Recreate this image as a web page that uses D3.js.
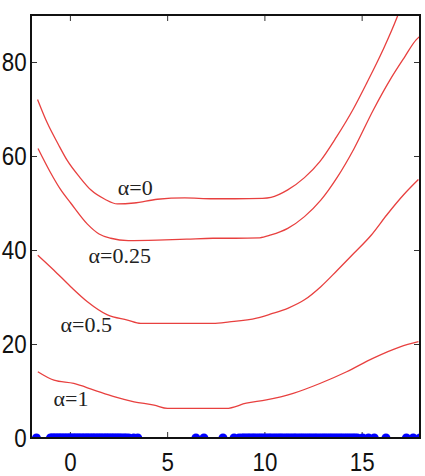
<!DOCTYPE html>
<html>
<head>
<meta charset="utf-8">
<script src="https://cdn.jsdelivr.net/npm/d3@7"></script>
<style>
  html, body { margin: 0; padding: 0; background: #fff; }
  .tick-label { font-family: "Liberation Sans", Arial, sans-serif; font-size: 26px; fill: #111; }
  .alpha-label { font-family: "Liberation Serif", "Times New Roman", serif; font-size: 22px; fill: #222; }
</style>
</head>
<body>
<div id="app"></div>
<script>
// curves, [x, y]
const alpha0 = [[-1.66,72],[-1.16,67],[-0.6,62.5],[-0.13,59],[0.5,55.5],[1.07,52.8],[1.8,50.8],[2.44,49.8],
  [3.3,50],[4.5,50.8],[5.9,51.1],[7.35,50.9],[8.5,50.9],[9.9,51],[10.34,51.2],[11.2,52.8],[12.06,55.4],
  [12.85,58.8],[13.7,64],[14.57,70],[15.26,75.5],[16.1,82.6],[16.8,89.3],[17.0,91.5]];
const alpha025 = [[-1.64,61.6],[-1.0,56.5],[-0.5,53],[0.04,50],[0.9,45.5],[1.5,43.4],[2.1,42.5],[3,42],[4.5,42.1],
  [6,42.3],[7.35,42.5],[8.5,42.5],[9.76,42.6],[10.34,43.2],[11.2,44.6],[12.06,47.1],[12.9,50.6],[13.75,55.5],
  [14.6,61.5],[15.6,69.8],[16.46,76.2],[17.2,81],[17.8,84.7],[18,85.5]];
const alpha05 = [[-1.65,38.9],[-0.82,35.7],[0.04,32.2],[0.9,29],[1.93,26.2],[2.96,25.1],[3.64,24.4],[5,24.4],
  [7.35,24.4],[8.2,24.7],[9.6,25.5],[10.34,26.4],[11.2,27.6],[12.06,29.4],[12.9,32.2],[13.75,35.7],[14.6,39.3],
  [15.5,43.2],[16.3,47.5],[17.17,51.8],[17.92,55]];
const alpha1 = [[-1.65,14.1],[-0.82,12.3],[0.2,11.6],[1.24,10.2],[2.27,8.8],[3.3,7.7],[4.33,7.0],[5.02,6.3],
  [7.35,6.3],[8.04,6.3],[9.07,7.4],[10.1,8.1],[11.48,9.5],[12.85,11.6],[14.23,14.1],[15.6,17],[16.98,19.4],[17.92,20.5]];

const curves = [alpha0, alpha025, alpha05, alpha1];
const labels = ["α=0", "α=0.25", "α=0.5", "α=1"];
const labelAt = [[2.46,51.7],[0.96,37.2],[-0.48,22.6],[-0.84,6.8]];

// sample points along the x axis (y = 0)
const samples = [-1.72,
  -1.0,-0.93,-0.85,-0.78,-0.7,-0.62,-0.55,-0.47,-0.4,-0.31,-0.24,-0.15,-0.08,0.0,0.07,0.16,0.24,0.31,0.4,
  0.47,0.55,0.64,0.71,0.8,0.88,0.95,1.04,1.12,1.2,1.27,1.36,1.44,1.52,1.6,1.68,1.77,1.85,1.93,2.01,2.1,
  2.18,2.26,2.35,2.43,2.52,2.6,2.7,2.81,2.9,3.03,3.28,3.49,
  6.48,6.89,7.87,8.44,8.7,
  8.85,8.95,9.06,9.17,9.26,9.38,9.47,9.58,9.7,9.8,9.91,10.02,10.13,10.24,10.33,10.45,10.56,10.67,10.78,
  10.87,10.98,11.1,11.2,11.31,11.42,11.53,11.62,11.74,11.85,11.95,12.06,12.17,12.28,12.38,12.49,12.6,
  12.7,12.82,12.93,13.04,13.14,13.25,13.36,13.46,13.57,13.68,13.79,13.9,14.0,14.12,14.23,14.34,14.45,
  14.56,14.66,14.78,
  15.05,15.35,15.65,16.25,17.3,17.65,18.0];

const xTicks = [0, 5, 10, 15];
const yTicks = [0, 20, 40, 60, 80];

const width = 425, height = 476;
const margin = {top: 15, right: 5, bottom: 38, left: 31};

const svg = d3.select("#app").append("svg")
    .attr("width", width)
    .attr("height", height)
    .style("display", "block");

svg.append("rect").attr("width", width).attr("height", height).attr("fill", "#fff");

const x = d3.scaleLinear().domain([-2, 18]).range([margin.left, width - margin.right]);
const y = d3.scaleLinear().domain([0, 90]).range([height - margin.bottom, margin.top]);

svg.append("defs").append("clipPath").attr("id", "plot")
  .append("rect")
    .attr("x", x(-2)).attr("y", y(90))
    .attr("width", x(18) - x(-2)).attr("height", y(0) - y(90));

// axes, ticks inward like matlab
const tick = 6;
const styleAxis = g => {
  g.select(".domain").remove();
  g.selectAll(".tick line").attr("stroke", "#333").attr("stroke-width", 1);
};
const styleLabels = g => g.selectAll("text")
    .attr("class", "tick-label")
    .attr("fill", null)
    .attr("transform", "scale(0.86,1)");

svg.append("g")
    .attr("transform", `translate(0,${y(0)})`)
    .call(d3.axisBottom(x).tickValues(xTicks).tickSizeInner(-tick).tickSizeOuter(0).tickPadding(15))
    .attr("font-size", null).attr("font-family", null)
    .call(styleAxis)
    .call(styleLabels);

svg.append("g")
    .attr("transform", `translate(0,${y(90)})`)
    .call(d3.axisTop(x).tickValues(xTicks).tickSizeInner(-tick).tickSizeOuter(0).tickFormat(""))
    .call(styleAxis);

svg.append("g")
    .attr("transform", `translate(${x(-2)},0)`)
    .call(d3.axisLeft(y).tickValues(yTicks).tickSizeInner(-tick).tickSizeOuter(0).tickPadding(5))
    .attr("font-size", null).attr("font-family", null)
    .call(styleAxis)
    .call(styleLabels);

svg.append("g")
    .attr("transform", `translate(${x(18)},0)`)
    .call(d3.axisRight(y).tickValues(yTicks).tickSizeInner(-tick).tickSizeOuter(0).tickFormat(""))
    .call(styleAxis);

const line = d3.line()
    .x(d => x(d[0]))
    .y(d => y(d[1]))
    .curve(d3.curveMonotoneX);

const plot = svg.append("g").attr("clip-path", "url(#plot)");

plot.selectAll(".curve")
    .data(curves)
  .enter().append("path")
    .attr("class", "curve")
    .attr("d", line)
    .attr("fill", "none")
    .attr("stroke", "#e8403f")
    .attr("stroke-width", 1.3);

plot.selectAll(".sample")
    .data(samples)
  .enter().append("circle")
    .attr("class", "sample")
    .attr("cx", d => x(d))
    .attr("cy", y(0))
    .attr("r", 4.5)
    .attr("fill", "#0000ff");

svg.selectAll(".alpha-label")
    .data(labels)
  .enter().append("text")
    .attr("class", "alpha-label")
    .attr("x", (d, i) => x(labelAt[i][0]))
    .attr("y", (d, i) => y(labelAt[i][1]))
    .text(d => d);

// frame
svg.append("rect")
    .attr("x", x(-2)).attr("y", y(90))
    .attr("width", x(18) - x(-2)).attr("height", y(0) - y(90))
    .attr("fill", "none")
    .attr("stroke", "#111")
    .attr("stroke-width", 2);
</script>
</body>
</html>
